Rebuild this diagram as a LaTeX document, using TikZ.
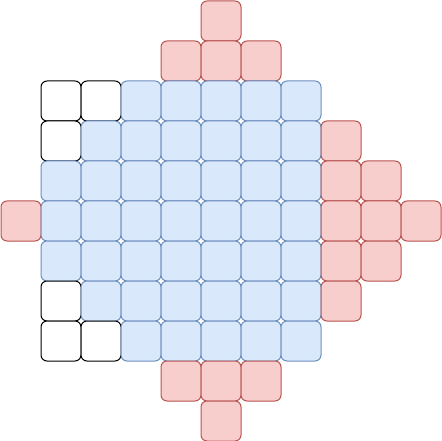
\documentclass[tikz,border=0pt]{standalone}
\begin{document}
\begin{tikzpicture}[x=1pt,y=-1pt,
  cell/.style={minimum width=40pt,minimum height=40pt,inner sep=0pt,rounded corners=6pt,line width=1pt,anchor=north west},
  bluecell/.style={cell,draw={rgb,255:red,108;green,142;blue,191},fill={rgb,255:red,218;green,232;blue,252}},
  redcell/.style={cell,draw={rgb,255:red,184;green,84;blue,80},fill={rgb,255:red,248;green,206;blue,204}},
  whitecell/.style={cell,draw=black,fill=white}]
\useasboundingbox (0,0) rectangle (442,441);
% row 0
\node[redcell] (r0c5) at (200.5,0.5) {};
% row 1
\foreach \c in {4,5,6} \node[redcell] (r1c\c) at (\c*40+0.5,40.5) {};
% row 2
\foreach \c in {1,2} \node[whitecell] (r2c\c) at (\c*40+0.5,80.5) {};
\foreach \c in {3,...,7} \node[bluecell] (r2c\c) at (\c*40+0.5,80.5) {};
% row 3
\node[whitecell] (r3c1) at (40.5,120.5) {};
\foreach \c in {2,...,7} \node[bluecell] (r3c\c) at (\c*40+0.5,120.5) {};
\node[redcell] (r3c8) at (320.5,120.5) {};
% row 4
\foreach \c in {1,...,7} \node[bluecell] (r4c\c) at (\c*40+0.5,160.5) {};
\foreach \c in {8,9} \node[redcell] (r4c\c) at (\c*40+0.5,160.5) {};
% row 5
\node[redcell] (r5c0) at (0.5,200.5) {};
\foreach \c in {1,...,7} \node[bluecell] (r5c\c) at (\c*40+0.5,200.5) {};
\foreach \c in {8,9,10} \node[redcell] (r5c\c) at (\c*40+0.5,200.5) {};
% row 6
\foreach \c in {1,...,7} \node[bluecell] (r6c\c) at (\c*40+0.5,240.5) {};
\foreach \c in {8,9} \node[redcell] (r6c\c) at (\c*40+0.5,240.5) {};
% row 7
\node[whitecell] (r7c1) at (40.5,280.5) {};
\foreach \c in {2,...,7} \node[bluecell] (r7c\c) at (\c*40+0.5,280.5) {};
\node[redcell] (r7c8) at (320.5,280.5) {};
% row 8
\foreach \c in {1,2} \node[whitecell] (r8c\c) at (\c*40+0.5,320.5) {};
\foreach \c in {3,...,7} \node[bluecell] (r8c\c) at (\c*40+0.5,320.5) {};
% row 9
\foreach \c in {4,5,6} \node[redcell] (r9c\c) at (\c*40+0.5,360.5) {};
% row 10
\node[redcell] (r10c5) at (200.5,400.5) {};
\end{tikzpicture}
\end{document}
